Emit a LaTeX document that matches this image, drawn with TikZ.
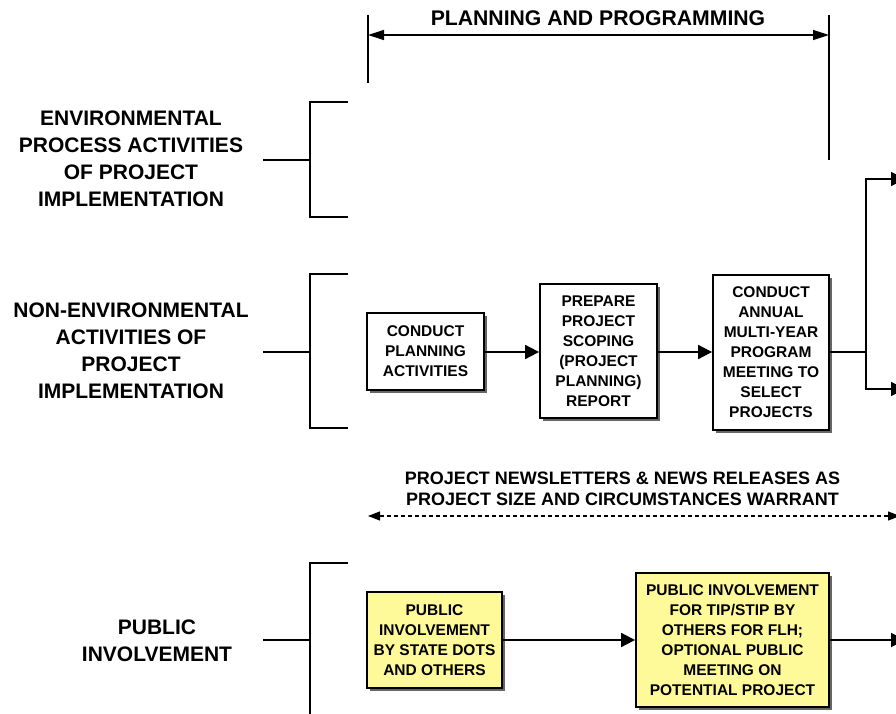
\documentclass[tikz,border=0pt]{standalone}
\usepackage{fontspec}
\setmainfont{Liberation Sans}
\usetikzlibrary{arrows.meta,shadows}
\begin{document}
\begin{tikzpicture}[x=1pt,y=-1pt,
  lbl/.style={font=\bfseries\fontsize{21}{27}\selectfont,align=center,inner sep=0},
  boxtxt/.style={font=\bfseries\fontsize{15.5}{20}\selectfont,align=center,inner sep=0},
  stepbox/.style={boxtxt,draw,line width=1.8pt,fill=white,
    drop shadow={shadow xshift=2.5pt,shadow yshift=-2.5pt,fill=black!60,opacity=1}},
  pibox/.style={stepbox,fill=yellow!40!white},
  conn/.style={line width=1.8pt},
  arr/.style={conn,-{Triangle[length=14pt,width=14pt]}},
  brk/.style={line width=1.6pt}]
\useasboundingbox (0,0) rectangle (896,714);
% title
\node[font=\bfseries\fontsize{21.2}{24}\selectfont,inner sep=0] (title) at (598,18) {PLANNING AND PROGRAMMING};
\coordinate (pl) at (368,35);
\coordinate (pr) at (829,35);
\draw[line width=1.2pt,{Triangle[length=16pt,width=10pt]}-{Triangle[length=16pt,width=10pt]}] (pl) -- (pr);
\draw[line width=1.2pt] (368,15) -- (368,83);
\draw[line width=1.2pt] (829,15) -- (829,160);
% left labels
\node[lbl] (l1) at (131,158.5) {ENVIRONMENTAL\\PROCESS ACTIVITIES\\OF PROJECT\\IMPLEMENTATION};
\node[lbl] (l2) at (131,351) {NON-ENVIRONMENTAL\\ACTIVITIES OF\\PROJECT\\IMPLEMENTATION};
\node[lbl] (l3) at (157,641) {PUBLIC\\INVOLVEMENT};
% brackets
\draw[brk] (348,102) -- (310,102) -- (310,217) -- (348,217);
\draw[brk] (263,160) -- (310,160);
\draw[brk] (348,274) -- (310,274) -- (310,428) -- (348,428);
\draw[brk] (263,352) -- (310,352);
\draw[brk] (348,563) -- (310,563) -- (310,714);
\draw[brk] (263,640) -- (310,640);
% boxes
\node[stepbox,minimum width=117pt,minimum height=77pt] (a) at (425.5,351.5) {CONDUCT\\PLANNING\\ACTIVITIES};
\node[stepbox,minimum width=117pt,minimum height=134pt] (b) at (598.5,351) {PREPARE\\PROJECT\\SCOPING\\(PROJECT\\PLANNING)\\REPORT};
\node[stepbox,minimum width=116pt,minimum height=155pt] (c) at (771,352.5) {CONDUCT\\ANNUAL\\MULTI-YEAR\\PROGRAM\\MEETING TO\\SELECT\\PROJECTS};
\node[pibox,minimum width=135pt,minimum height=96pt] (d) at (434.5,640) {PUBLIC\\INVOLVEMENT\\BY STATE DOTS\\AND OTHERS};
\node[pibox,minimum width=193pt,minimum height=134pt] (e) at (732.5,640) {PUBLIC INVOLVEMENT\\FOR TIP/STIP BY\\OTHERS FOR FLH;\\OPTIONAL PUBLIC\\MEETING ON\\POTENTIAL PROJECT};
% connectors
\draw[arr] (a.east |- 0,352) -- (b.west |- 0,352);
\draw[arr] (b.east |- 0,352) -- (c.west |- 0,352);
\coordinate (split) at (866,352);
\coordinate (o1) at (905,179);
\coordinate (o2) at (905,389);
\draw[conn] (c.east |- split) -- (split);
\draw[arr] (split) |- (o1);
\draw[arr] (split) |- (o2);
\draw[arr] (d.east) -- (e.west);
\coordinate (o3) at (905,640);
\draw[arr] (e.east) -- (o3);
% newsletters
\node[font=\bfseries\fontsize{18}{21}\selectfont,align=center,inner sep=0] (news) at (622.5,488.5) {PROJECT NEWSLETTERS \& NEWS RELEASES AS\\PROJECT SIZE AND CIRCUMSTANCES WARRANT};
\coordinate (nl) at (368,516);
\coordinate (nr) at (900,516);
\draw[line width=1.2pt,dash pattern=on 4pt off 3pt,{Triangle[length=12pt,width=9pt]}-{Triangle[length=12pt,width=9pt]}] (nl) -- (nr);
\end{tikzpicture}
\end{document}
